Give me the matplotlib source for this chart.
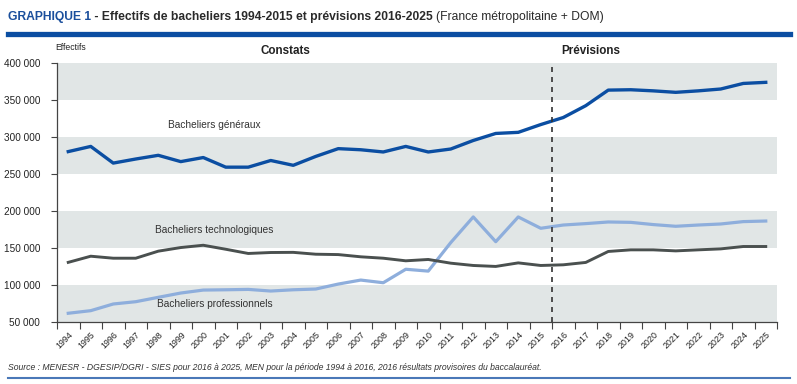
import numpy as np
import matplotlib
matplotlib.use("Agg")
from matplotlib import pyplot as plt
from matplotlib.lines import Line2D

plt.rcParams['font.family'] = ['Liberation Sans', 'DejaVu Sans']

years = list(range(1994, 2026))
generaux = [280000, 287000, 264500, 270000, 275000, 266500, 272000, 259000, 259000, 268000,
            261500, 273500, 284000, 282500, 279500, 287000, 279500, 283500, 295000, 304500,
            306000, 316500, 326000, 342000, 363000, 363500, 362000, 360000, 362000, 364500,
            372000, 373500]
technos = [130500, 138800, 136100, 136100, 145600, 150500, 153600, 148200, 142500, 143800,
           144000, 141500, 141000, 138000, 136100, 132600, 134400, 129400, 126300, 125000,
           129800, 126300, 127200, 130400, 145200, 147400, 147400, 146000, 147400, 148700,
           151900, 151900]
pros = [61800, 65300, 74300, 77400, 83300, 89100, 93100, 93500, 94000, 91800,
        93500, 94500, 101200, 106600, 103000, 121200, 118700, 157200, 191800, 158400,
        191800, 176500, 180900, 182800, 185000, 184500, 181500, 179200, 180900, 182300,
        185500, 186300]
yticks = [50000, 100000, 150000, 200000, 250000, 300000, 350000, 400000]

W, H = 797, 384
fig = plt.figure(figsize=(W / 100, H / 100), dpi=100)
ax = fig.add_axes([57 / W, 1 - 322 / H, 720 / W, 259.3 / H])

x = np.arange(len(years))
ax.set_xlim(-0.5, len(years) - 0.5)
ax.set_ylim(50000, 400000)

# grey bands
band = '#e1e6e6'
for lo in (50000, 150000, 250000, 350000):
    ax.axhspan(lo, lo + 50000, color=band, lw=0, zorder=0)

ax.plot(x, pros, color='#8eaedc', lw=2.3, zorder=3)
ax.plot(x, technos, color='#4a504f', lw=2.1, zorder=3)
ax.plot(x, generaux, color='#0b4ea2', lw=2.4, zorder=4)

ax.axvline(years.index(2016) - 0.5, color='#333333', lw=1.2, ls=(0, (3, 3)), zorder=5)

ax.text(6.5, 316500, 'Bacheliers généraux', ha='center', va='center', fontsize=7.3, color='#333333')
ax.text(6.5, 174000, 'Bacheliers technologiques', ha='center', va='center', fontsize=7.3, color='#333333')
ax.text(6.5, 74500, 'Bacheliers professionnels', ha='center', va='center', fontsize=7.3, color='#333333')

for s in ('top', 'right'):
    ax.spines[s].set_visible(False)
for s in ('left', 'bottom'):
    ax.spines[s].set_color('#444444')
    ax.spines[s].set_linewidth(0.9)

ax.set_yticks(yticks)
ax.set_yticklabels([f"{v // 1000} 000" for v in yticks])
ax.tick_params(axis='y', length=4, width=0.8, color='#444444', labelsize=7.2, labelcolor='#222222', pad=8)

ax.set_xticks(x)
ax.set_xticklabels([str(y) for y in years], rotation=45, ha='right', rotation_mode='anchor')
ax.tick_params(axis='x', which='major', length=0, labelsize=6.4, labelcolor='#222222', pad=6)
ax.set_xticks(np.arange(-0.5, len(years)), minor=True)
ax.tick_params(axis='x', which='minor', length=5, width=0.8, color='#444444')

fig.text(55 / W, 1 - 48 / H, 'Effectifs', fontsize=6.2, color='#222222', va='center')
fig.text(285 / W, 1 - 51 / H, 'Constats', fontsize=8.4, fontweight='bold', color='#222222', ha='center', va='center')
fig.text(591 / W, 1 - 51 / H, 'Prévisions', fontsize=8.4, fontweight='bold', color='#222222', ha='center', va='center')

# title built from pieces
renderer = fig.canvas.get_renderer()
parts = [('GRAPHIQUE 1', '#1b4f9c', 'bold'),
         (' - Effectifs de bacheliers 1994-2015 et prévisions 2016-2025 ', '#2a2a2a', 'bold'),
         ('(France métropolitaine + DOM)', '#2a2a2a', 'normal')]
xpos = 8
for txt, col, wt in parts:
    t = fig.text(xpos / W, 1 - 17 / H, txt, fontsize=8.7, color=col, fontweight=wt, va='center')
    xpos += t.get_window_extent(renderer).width

fig.add_artist(Line2D([8 / W, 790 / W], [1 - 34 / H, 1 - 34 / H], color='#0b4ea2', lw=3.8))

fig.text(8 / W, 1 - 367 / H,
         'Source : MENESR - DGESIP/DGRI - SIES pour 2016 à 2025, MEN pour la période 1994 à 2016, '
         '2016 résultats provisoires du baccalauréat.',
         fontsize=6.2, style='italic', color='#333333', va='center')
fig.add_artist(Line2D([8 / W, 790 / W], [1 - 378 / H, 1 - 378 / H], color='#4a78b8', lw=1.5))

fig.savefig('out.png', dpi=100)
